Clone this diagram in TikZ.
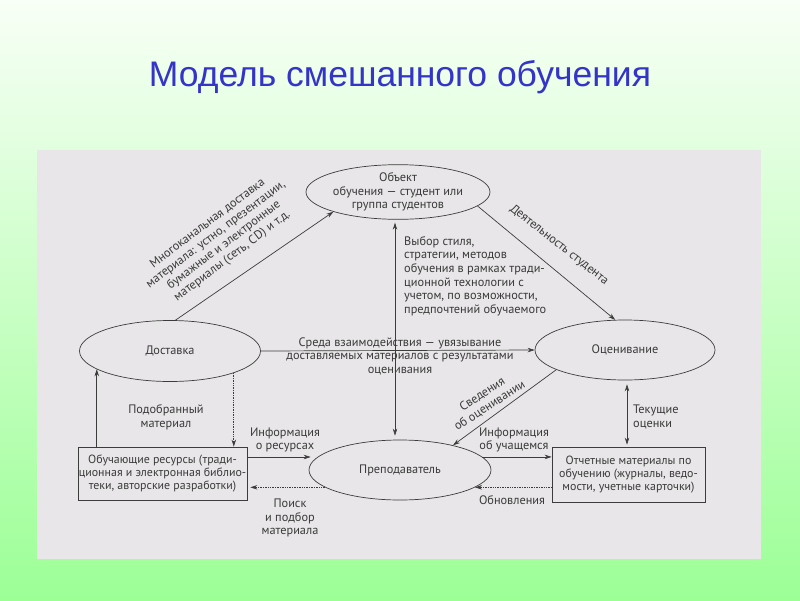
\documentclass[tikz,border=0pt]{standalone}
\usepackage{fontspec}
\setmainfont{PT Sans}
\newfontfamily\titlefont{Liberation Sans}
\usetikzlibrary{shapes.geometric,arrows.meta}
\definecolor{linec}{HTML}{3C3C3C}
\definecolor{txt}{HTML}{3A3A3A}
\definecolor{panel}{HTML}{E8E6E8}
\definecolor{titleblue}{HTML}{3434C8}
\definecolor{bgtop}{HTML}{F8FFF6}
\definecolor{bgmid}{HTML}{D6FFD0}
\definecolor{bgbot}{HTML}{9CFF96}
\begin{document}
\begin{tikzpicture}[x=1pt,y=-1pt,
  ell/.style={ellipse, draw=linec, line width=0.7pt, inner sep=0pt, text=txt, align=center, font=\fontsize{12.3}{13.6}\selectfont},
  box/.style={rectangle, draw=linec, line width=0.7pt, inner sep=0pt, text=txt, align=center, font=\fontsize{11.9}{13.2}\selectfont},
  lbl/.style={text=txt, align=center, inner sep=0pt, font=\fontsize{12.3}{13.6}\selectfont},
  arr/.style={draw=linec, line width=0.7pt, -{Stealth[length=7pt,width=4.5pt]}},
  dbl/.style={draw=linec, line width=0.7pt, {Stealth[length=7pt,width=4.5pt]}-{Stealth[length=7pt,width=4.5pt]}},
  dots/.style={densely dotted}]
\useasboundingbox (0,0) rectangle (800,600);
\shade[top color=bgtop, middle color=bgmid, bottom color=bgbot] (0,0) rectangle (800,600);
\fill[panel] (37,150) rectangle (761,559);
\node[text=titleblue, font=\titlefont\fontsize{35.5}{40}\selectfont] (title) at (400,77) {Модель смешанного обучения};

% main nodes
\node[ell, minimum width=184pt, minimum height=54pt] (obj) at (398,192) {Объект\\обучения — студент или\\группа студентов};
\node[ell, minimum width=181pt, minimum height=61pt] (dost) at (170,351) {Доставка};
\node[ell, minimum width=180pt, minimum height=60pt] (ocen) at (625,350) {Оценивание};
\node[ell, minimum width=182pt, minimum height=60pt] (prep) at (400,470) {Преподаватель};
\node[box, minimum width=169pt, minimum height=53pt] (obr) at (162.5,473.5) {Обучающие ресурсы (тради-\\ционная и электронная библио-\\теки, авторские разработки)};
\node[box, minimum width=153pt, minimum height=55pt] (otch) at (628.5,474.5) {Отчетные материалы по\\обучению (журналы, ведо-\\мости, учетные карточки)};

% connectors
\draw[arr] (dost.80) -- (obj.197);
\draw[arr] (obj.-10) -- (ocen.108);
\draw[dbl] ([xshift=-3pt,yshift=-3pt]obj.south) -- ([xshift=-5pt,yshift=4pt]prep.north);
\draw[arr] (dost.east) -- (ocen.west);
\draw[arr] (ocen.196) -- (prep.25);
\draw[dbl] ([xshift=2pt,yshift=-4pt]ocen.south) -- ([xshift=-1.5pt,yshift=2pt]otch.north);
\draw[arr] (dost.194 |- obr.north) -- (dost.194);
\draw[arr,dots] (dost.-19) -- (dost.-19 |- obr.north);
\draw[arr] ([yshift=13pt]prep.west -| obr.east) -- ([yshift=13pt,xshift=2pt]prep.west);
\draw[arr,dots] (prep.193) -- ([xshift=3pt]prep.193 -| obr.east);
\draw[arr] (prep.9) -- (prep.9 -| otch.west);
\draw[arr,dots] (prep.-13 -| otch.west) -- (prep.-13);

% labels
\node[lbl, rotate=37] (l1) at (220,240) {Многоканальная доставка\\материала: устно, презентации,\\бумажные и электронные\\материалы (сеть, CD) и т.д.};
\node[lbl, rotate=-38] (l2) at (559,245) {Деятельность студента};
\node[lbl, anchor=west, align=left] (l3) at (404,276) {Выбор стиля,\\стратегии, методов\\обучения в рамках тради-\\ционной технологии с\\учетом, по возможности,\\предпочтений обучаемого};
\node[lbl] (l4) at (400,356) {Среда взаимодействия — увязывание\\доставляемых материалов с результатами\\оценивания};
\node[lbl, rotate=33] (l5) at (486,400) {Сведения\\об оценивании};
\node[lbl, anchor=west, align=left] (l6) at (633,417) {Текущие\\оценки};
\node[lbl] (l7) at (166,417) {Подобранный\\материал};
\node[lbl] (l8) at (285,440) {Информация\\о ресурсах};
\node[lbl] (l9) at (290,518) {Поиск\\и подбор\\материала};
\node[lbl] (l10) at (514,440) {Информация\\об учащемся};
\node[lbl] (l11) at (512,500) {Обновления};
\end{tikzpicture}
\end{document}
